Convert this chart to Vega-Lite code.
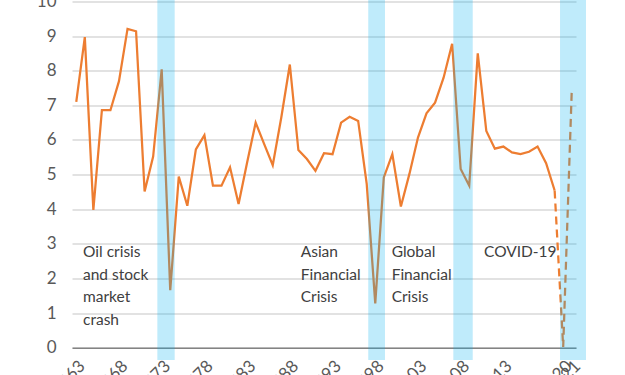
{
  "$schema": "https://vega.github.io/schema/vega-lite/v6.json",
  "autosize": {"type": "none"},
  "padding": {"left": 72, "top": 1.5, "right": 49, "bottom": 27.3},
  "width": 504,
  "height": 346.2,
  "background": "white",
  "config": {
    "view": {"stroke": null},
    "font": "Lato",
    "axis": {"labelFont": "Lato", "labelColor": "#595959", "labelFontSize": 17},
    "axisX": {"title": null, "format": "d", "labelAngle": -45, "ticks": false, "grid": false, "domainColor": "#595959", "domainWidth": 1, "labelPadding": 10, "labelFlush": false, "labelOverlap": false},
    "axisY": {"title": null, "domain": false, "ticks": false, "grid": true, "gridColor": "#D9D9D9", "gridWidth": 1.3, "labelPadding": 16, "labelOverlap": false, "labelFlush": false}
  },
  "datasets": {
    "series": [
      {"year": 1963, "value": 7.1}, {"year": 1964, "value": 8.97}, {"year": 1965, "value": 3.98},
      {"year": 1966, "value": 6.86}, {"year": 1967, "value": 6.86}, {"year": 1968, "value": 7.7},
      {"year": 1969, "value": 9.21}, {"year": 1970, "value": 9.14}, {"year": 1971, "value": 4.51},
      {"year": 1972, "value": 5.52}, {"year": 1973, "value": 8.04}, {"year": 1974, "value": 1.66},
      {"year": 1975, "value": 4.94}, {"year": 1976, "value": 4.1}, {"year": 1977, "value": 5.73},
      {"year": 1978, "value": 6.14}, {"year": 1979, "value": 4.68}, {"year": 1980, "value": 4.68},
      {"year": 1981, "value": 5.21}, {"year": 1982, "value": 4.15}, {"year": 1983, "value": 5.35},
      {"year": 1984, "value": 6.5}, {"year": 1985, "value": 5.88}, {"year": 1986, "value": 5.27},
      {"year": 1987, "value": 6.65}, {"year": 1988, "value": 8.18}, {"year": 1989, "value": 5.71},
      {"year": 1990, "value": 5.45}, {"year": 1991, "value": 5.11}, {"year": 1992, "value": 5.62},
      {"year": 1993, "value": 5.59}, {"year": 1994, "value": 6.5}, {"year": 1995, "value": 6.67},
      {"year": 1996, "value": 6.55}, {"year": 1997, "value": 4.73}, {"year": 1998, "value": 1.28},
      {"year": 1999, "value": 4.92}, {"year": 2000, "value": 5.59}, {"year": 2001, "value": 4.08},
      {"year": 2002, "value": 5.02}, {"year": 2003, "value": 6.07}, {"year": 2004, "value": 6.77},
      {"year": 2005, "value": 7.08}, {"year": 2006, "value": 7.8}, {"year": 2007, "value": 8.78},
      {"year": 2008, "value": 5.16}, {"year": 2009, "value": 4.68}, {"year": 2010, "value": 8.5},
      {"year": 2011, "value": 6.26}, {"year": 2012, "value": 5.75}, {"year": 2013, "value": 5.81},
      {"year": 2014, "value": 5.64}, {"year": 2015, "value": 5.59}, {"year": 2016, "value": 5.66},
      {"year": 2017, "value": 5.81}, {"year": 2018, "value": 5.33}, {"year": 2019, "value": 4.54},
      {"year": 2020, "value": 0.02}, {"year": 2021, "value": 7.41}
    ],
    "bands": [
      {"start": 1972.49, "end": 1974.52},
      {"start": 1997.18, "end": 1999.14},
      {"start": 2007.14, "end": 2009.41},
      {"start": 2019.63, "end": 2022.67}
    ],
    "notes": [
      {"year": 1963.79, "value": 2.61, "label": "Oil crisis\nand stock\nmarket\ncrash"},
      {"year": 1989.27, "value": 2.61, "label": "Asian\nFinancial\nCrisis"},
      {"year": 1999.92, "value": 2.61, "label": "Global\nFinancial\nCrisis"},
      {"year": 2010.73, "value": 2.61, "label": "COVID-19"}
    ]
  },
  "encoding": {
    "x": {
      "type": "quantitative",
      "scale": {"domain": [1962.5, 2021.5], "nice": false, "zero": false},
      "axis": {"values": [1963, 1968, 1973, 1978, 1983, 1988, 1993, 1998, 2003, 2008, 2013, 2020, 2021]}
    },
    "y": {
      "type": "quantitative",
      "scale": {"domain": [0, 10], "nice": false},
      "axis": {"values": [0, 1, 2, 3, 4, 5, 6, 7, 8, 9, 10]}
    }
  },
  "layer": [
    {
      "data": {"name": "series"},
      "transform": [{"filter": "datum.year <= 2019"}],
      "mark": {"type": "line", "color": "#ED7D31", "strokeWidth": 2.25},
      "encoding": {
        "x": {"field": "year"},
        "y": {"field": "value"}
      }
    },
    {
      "data": {"name": "series"},
      "transform": [{"filter": "datum.year >= 2019"}],
      "mark": {"type": "line", "color": "#ED7D31", "strokeWidth": 2.25, "strokeDash": [8, 5]},
      "encoding": {
        "x": {"field": "year"},
        "y": {"field": "value"}
      }
    },
    {
      "data": {"name": "bands"},
      "mark": {"type": "rect", "color": "#00B0F0", "opacity": 0.25, "clip": false},
      "encoding": {
        "x": {"field": "start"},
        "x2": {"field": "end"},
        "y": {"datum": 10.1},
        "y2": {"datum": -0.355}
      }
    },
    {
      "data": {"name": "notes"},
      "mark": {"type": "text", "align": "left", "baseline": "alphabetic", "fontSize": 15.5, "lineHeight": 22.5, "lineBreak": "\n", "color": "#404040", "font": "Lato"},
      "encoding": {
        "x": {"field": "year"},
        "y": {"field": "value"},
        "text": {"field": "label"}
      }
    }
  ]
}
